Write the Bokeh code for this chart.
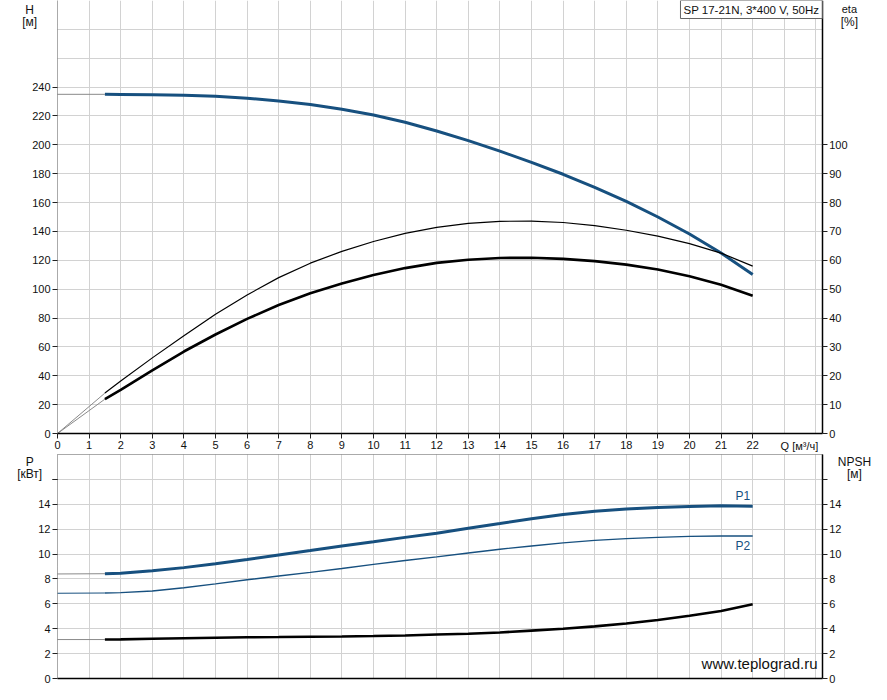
from bokeh.plotting import figure
from bokeh.models import Range1d, LinearAxis, FixedTicker, Label, Grid
from bokeh.layouts import column
from bokeh.embed import file_html
from bokeh.resources import INLINE

# ---------------- data ----------------
q = [1.5, 2, 3, 4, 5, 6, 7, 8, 9, 10, 11, 12, 13, 14, 15, 16, 17, 18, 19, 20, 21, 22]
head = [235.0, 234.9, 234.7, 234.3, 233.6, 232.3, 230.4, 227.9, 224.7, 220.7, 215.6,
        209.6, 202.9, 195.6, 187.9, 179.6, 170.6, 160.8, 150.0, 138.2, 125.0, 110.2]
eta_pump = [14.0, 18.2, 26.2, 33.9, 41.3, 48.0, 54.0, 59.0, 63.1, 66.5, 69.3,
            71.4, 72.8, 73.5, 73.6, 73.1, 72.0, 70.4, 68.4, 65.8, 62.5, 58.0]
eta_total = [11.9, 15.1, 21.9, 28.4, 34.3, 39.7, 44.5, 48.6, 52.0, 54.9, 57.3,
             59.1, 60.2, 60.8, 60.9, 60.5, 59.7, 58.5, 56.8, 54.5, 51.5, 47.7]
p1 = [8.42, 8.45, 8.66, 8.91, 9.22, 9.56, 9.92, 10.28, 10.65, 10.98, 11.34,
      11.68, 12.07, 12.45, 12.84, 13.18, 13.44, 13.62, 13.75, 13.82, 13.88, 13.85]
p2 = [6.87, 6.90, 7.03, 7.29, 7.60, 7.93, 8.24, 8.53, 8.84, 9.17, 9.48,
      9.77, 10.08, 10.39, 10.65, 10.90, 11.10, 11.24, 11.34, 11.42, 11.45, 11.45]
npsh = [3.13, 3.14, 3.20, 3.24, 3.28, 3.31, 3.33, 3.36, 3.38, 3.41, 3.46,
        3.53, 3.59, 3.70, 3.85, 4.00, 4.19, 4.42, 4.70, 5.04, 5.43, 5.97]

# values at Q = 0 (thin grey lead-in lines)
q_zero = 0
head_zero = 235
eta_zero = 0
p1_zero = 8.4
p2_zero = 6.85
npsh_zero = 3.13

q_max = 24.2
h_max = 300
eta_max = 150
p_max = 18

x_ticks = list(range(0, 23))
x_grid = list(range(1, 25))
h_ticks = list(range(0, 241, 20))
h_grid = list(range(20, 300, 20))
eta_ticks = list(range(0, 101, 10))
p_ticks = list(range(0, 17, 2))
p_grid = list(range(2, 18, 2))

title_text = "SP 17-21N, 3*400 V, 50Hz"
watermark = "www.teplograd.ru"

# ---------------- style ----------------
FONT = "Liberation Sans"
BLUE = "#17507f"
GRID = "#d2d2d2"
LEAD = "#8a8a8a"
TXT = "#111111"

W = 871
PX_PER_Q = 31.6
X0 = 57                      # pixel of Q = 0
XR = Range1d(-X0 / PX_PER_Q, (W - X0) / PX_PER_Q)

# top chart: H=0 at px 433, H=300 at px 0, figure height 452
TOP_H = 452
H_ZERO_PX = 433
h_scale = H_ZERO_PX / h_max
TOP_YR = (-(TOP_H - H_ZERO_PX) / h_scale, h_max)

# bottom chart: height 232, P=18 at px 2, P=0 at px 226
BOT_H = 232
P_TOP_PX, P_ZERO_PX = 2, 226
p_scale = (P_ZERO_PX - P_TOP_PX) / p_max
BOT_YR = (-(BOT_H - P_ZERO_PX) / p_scale, p_max + P_TOP_PX / p_scale)


def style_axis(ax, kind):
    ax.major_label_text_font = FONT
    ax.major_label_text_font_size = "11px"
    ax.major_label_text_color = TXT
    ax.major_tick_in = 0
    ax.major_tick_out = 5
    ax.minor_tick_in = 0
    ax.minor_tick_out = 0
    ax.major_label_standoff = 2
    ax.major_tick_line_color = "#222222"
    if kind == "dotted":
        ax.axis_line_color = "#555555"
        ax.axis_line_dash = "1 1"
    else:
        ax.axis_line_color = "black"
        ax.axis_line_width = 1.5


def make_fig(height, yr):
    f = figure(width=W, height=height, x_range=Range1d(XR.start, XR.end),
               y_range=Range1d(*yr), x_axis_type=None, y_axis_type=None,
               output_backend="svg", toolbar_location=None,
               min_border=0, min_border_left=0, min_border_right=0,
               min_border_top=0, min_border_bottom=0)
    f.outline_line_color = None
    return f


def add_grid(f, dim, ticks, cross):
    g = Grid(dimension=dim, ticker=FixedTicker(ticks=ticks), cross_bounds=cross,
             grid_line_color=GRID, grid_line_width=1)
    f.add_layout(g)


def lab(f, x, y, text, align="center", baseline="top", size="11px", color=TXT,
        yname="default", **kw):
    f.add_layout(Label(x=x, y=y, text=text, text_font=FONT, text_font_size=size,
                       text_color=color, text_align=align, text_baseline=baseline,
                       y_range_name=yname, **kw))


# ---------------- top chart ----------------
pt = make_fig(TOP_H, TOP_YR)
pt.extra_y_ranges = {"eta": Range1d(TOP_YR[0] / 2, eta_max)}
add_grid(pt, 0, x_grid, (0, h_max))
add_grid(pt, 1, h_grid, (0, q_max))

ax_h = LinearAxis(fixed_location=0, bounds=(0, h_max), ticker=FixedTicker(ticks=h_ticks))
style_axis(ax_h, "dotted")
pt.add_layout(ax_h, "left")
ax_eta = LinearAxis(y_range_name="eta", fixed_location=q_max, bounds=(0, eta_max),
                    ticker=FixedTicker(ticks=eta_ticks))
style_axis(ax_eta, "solid")
pt.add_layout(ax_eta, "right")
ax_q = LinearAxis(fixed_location=0, bounds=(0, q_max), ticker=FixedTicker(ticks=x_ticks))
style_axis(ax_q, "solid")
pt.add_layout(ax_q, "below")

pt.line([q_zero, q[0]], [head_zero, head[0]], line_color=LEAD, line_width=1)
pt.line(q, head, line_color=BLUE, line_width=3)
pt.line([q_zero, q[0]], [eta_zero, eta_pump[0]], line_color=LEAD, line_width=1, y_range_name="eta")
pt.line([q_zero, q[0]], [eta_zero, eta_total[0]], line_color=LEAD, line_width=1, y_range_name="eta")
pt.line(q, eta_pump, line_color="black", line_width=1.2, y_range_name="eta")
pt.line(q, eta_total, line_color="black", line_width=2.6, y_range_name="eta")

lab(pt, -0.88, 298.6, "H", size="12px")
lab(pt, -0.88, 290.0, "[м]", size="12px")
lab(pt, 25.06, 298.6, "eta", size="11px")
lab(pt, 25.06, 290.0, "[%]", size="12px")
lab(pt, 23.48, -4.2, "Q [м³/ч]")
pt.add_layout(Label(x=q_max, y=h_max, text=title_text, text_font=FONT, text_font_size="11.5px",
                    text_color=TXT, text_align="right", text_baseline="top",
                    border_line_color="#666666", background_fill_color="white",
                    padding=3))

# ---------------- bottom chart ----------------
pb = make_fig(BOT_H, BOT_YR)
pb.extra_y_ranges = {"npsh": Range1d(*BOT_YR)}
add_grid(pb, 0, x_grid, (0, p_max))
add_grid(pb, 1, p_grid, (0, q_max))

ax_p = LinearAxis(fixed_location=0, bounds=(0, p_max), ticker=FixedTicker(ticks=p_ticks + [16]))
style_axis(ax_p, "dotted")
ax_p.major_label_overrides = {16: ""}
pb.add_layout(ax_p, "left")
ax_n = LinearAxis(y_range_name="npsh", fixed_location=q_max, bounds=(0, p_max),
                  ticker=FixedTicker(ticks=p_ticks))
style_axis(ax_n, "solid")
ax_n.major_label_overrides = {16: ""}
pb.add_layout(ax_n, "right")
ax_b = LinearAxis(fixed_location=0, bounds=(0, q_max), ticker=FixedTicker(ticks=[]))
style_axis(ax_b, "solid")
pb.add_layout(ax_b, "below")
ax_t = LinearAxis(fixed_location=p_max, bounds=(0, q_max), ticker=FixedTicker(ticks=[]))
style_axis(ax_t, "dotted")
pb.add_layout(ax_t, "above")

pb.line([q_zero, q[0]], [p1_zero, p1[0]], line_color=LEAD, line_width=1)
pb.line([q_zero, q[0]], [p2_zero, p2[0]], line_color=BLUE, line_width=1)
pb.line([q_zero, q[0]], [npsh_zero, npsh[0]], line_color=LEAD, line_width=1, y_range_name="npsh")
pb.line(q, p1, line_color=BLUE, line_width=3)
pb.line(q, p2, line_color=BLUE, line_width=1.4)
pb.line(q, npsh, line_color="black", line_width=2.6, y_range_name="npsh")

lab(pb, -0.88, 17.92, "P", size="12px")
lab(pb, -0.88, 16.96, "[кВт]", size="12px")
lab(pb, 25.22, 17.92, "NPSH", size="12px")
lab(pb, 25.22, 16.96, "[м]", size="12px")
lab(pb, 21.69, 14.07, "P1", baseline="bottom", size="12px", color=BLUE)
lab(pb, 21.69, 11.2, "P2", size="12px", color=BLUE)
lab(pb, 24.05, 1.2, watermark, align="right", baseline="alphabetic", size="15px", color=TXT)

layout = column(pt, pb, spacing=0)
open("out.html", "w").write(file_html(layout, INLINE))
